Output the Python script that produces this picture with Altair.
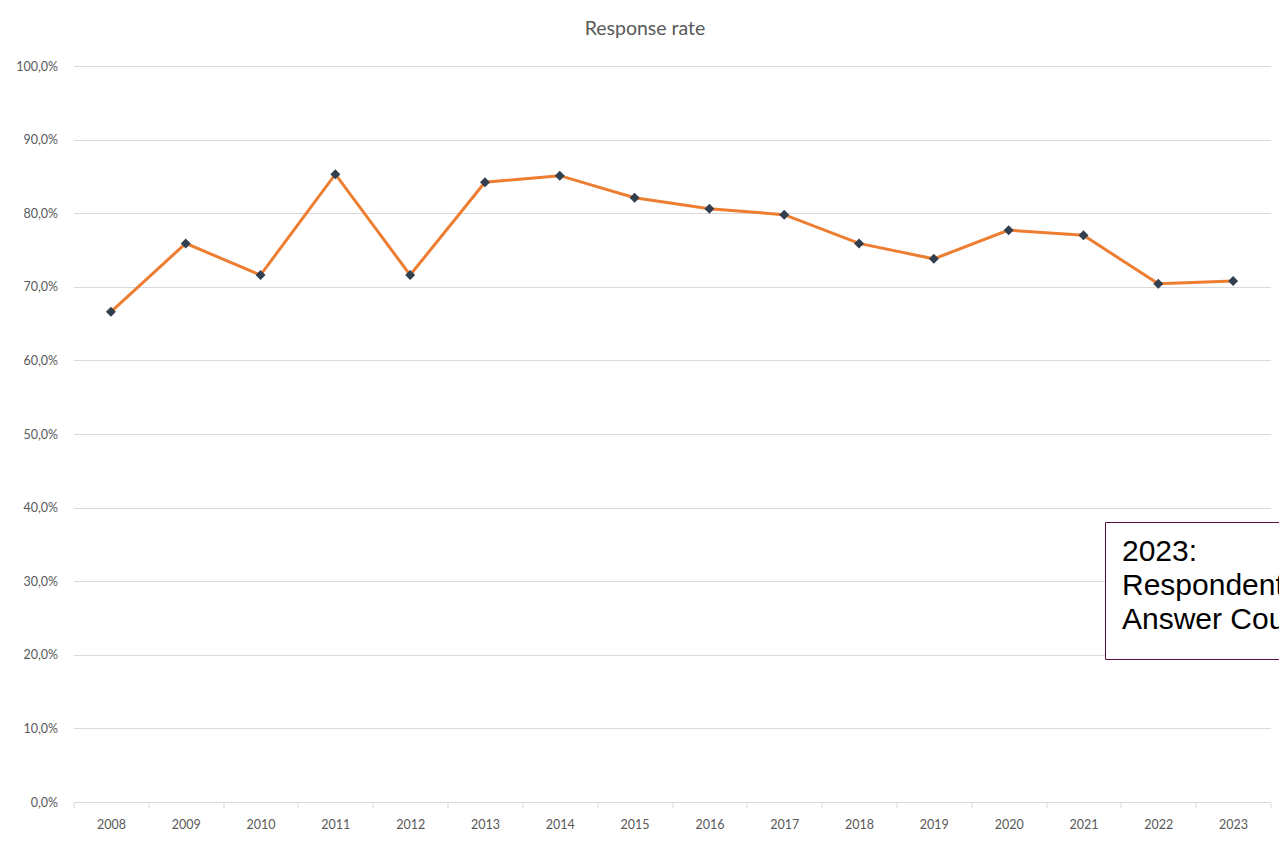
import altair as alt
import pandas as pd

years = ["2008", "2009", "2010", "2011", "2012", "2013", "2014", "2015",
         "2016", "2017", "2018", "2019", "2020", "2021", "2022", "2023"]
rates = [0.666, 0.759, 0.716, 0.853, 0.716, 0.842, 0.851, 0.821,
         0.806, 0.798, 0.759, 0.738, 0.777, 0.770, 0.704, 0.708]
y_ticks = [0.0, 0.1, 0.2, 0.3, 0.4, 0.5, 0.6, 0.7, 0.8, 0.9, 1.0]
note_lines = ["2023:", "Respondents", "Answer Count"]

df = pd.DataFrame({"year": years, "rate": rates})
note_df = pd.DataFrame({"txt": [note_lines]})

x_enc = alt.X(
    "year:O",
    bandPosition=0.5,
    scale=alt.Scale(type="band", paddingInner=0, paddingOuter=0),
    axis=alt.Axis(
        title=None, labelAngle=0, tickBand="extent", grid=False,
        domainColor="#d9d9d9", tickColor="#d9d9d9", tickSize=6,
        labelColor="#595959", labelFont="Lato", labelFontSize=12.5,
        labelPadding=10,
    ),
)
y_enc = alt.Y(
    "rate:Q",
    scale=alt.Scale(domain=[0, 1], nice=False),
    axis=alt.Axis(
        title=None, values=y_ticks, domain=False, ticks=False,
        gridColor="#d9d9d9", gridWidth=1,
        labelExpr="replace(format(datum.value, '.1%'), '.', ',')",
        labelColor="#595959", labelFont="Lato", labelFontSize=12.5,
        labelPadding=16,
    ),
)

base = alt.Chart(df)
line = base.mark_line(color="#ED7D31", strokeWidth=3).encode(x=x_enc, y=y_enc)
pts = base.mark_point(shape="diamond", filled=True, size=100, color="#323F4F", opacity=1).encode(
    x=x_enc, y=y_enc)

box = alt.Chart(note_df).mark_rect(fill="white", stroke="#5E1242", strokeWidth=1).encode(
    x=alt.value(1032), x2=alt.value(1300), y=alt.value(456.5), y2=alt.value(593.5))
note = alt.Chart(note_df).mark_text(
    align="left", baseline="alphabetic", font="Liberation Sans", fontSize=30,
    lineHeight=34, color="#000000",
).encode(x=alt.value(1048.5), y=alt.value(495), text="txt")

chart = alt.layer(line, pts, box, note).properties(
    width=1197, height=736,
    autosize=alt.AutoSizeParams(type="none"),
    padding={"left": 65.5, "top": 58, "right": 8, "bottom": 34},
    title=alt.TitleParams(
        "Response rate", fontSize=19.5, font="Lato", fontWeight="normal",
        color="#595959", anchor="middle", dx=-27, offset=21,
    ),
).configure_view(stroke=None)

chart.save("out.html", embed_options={"renderer": "svg", "actions": False})
